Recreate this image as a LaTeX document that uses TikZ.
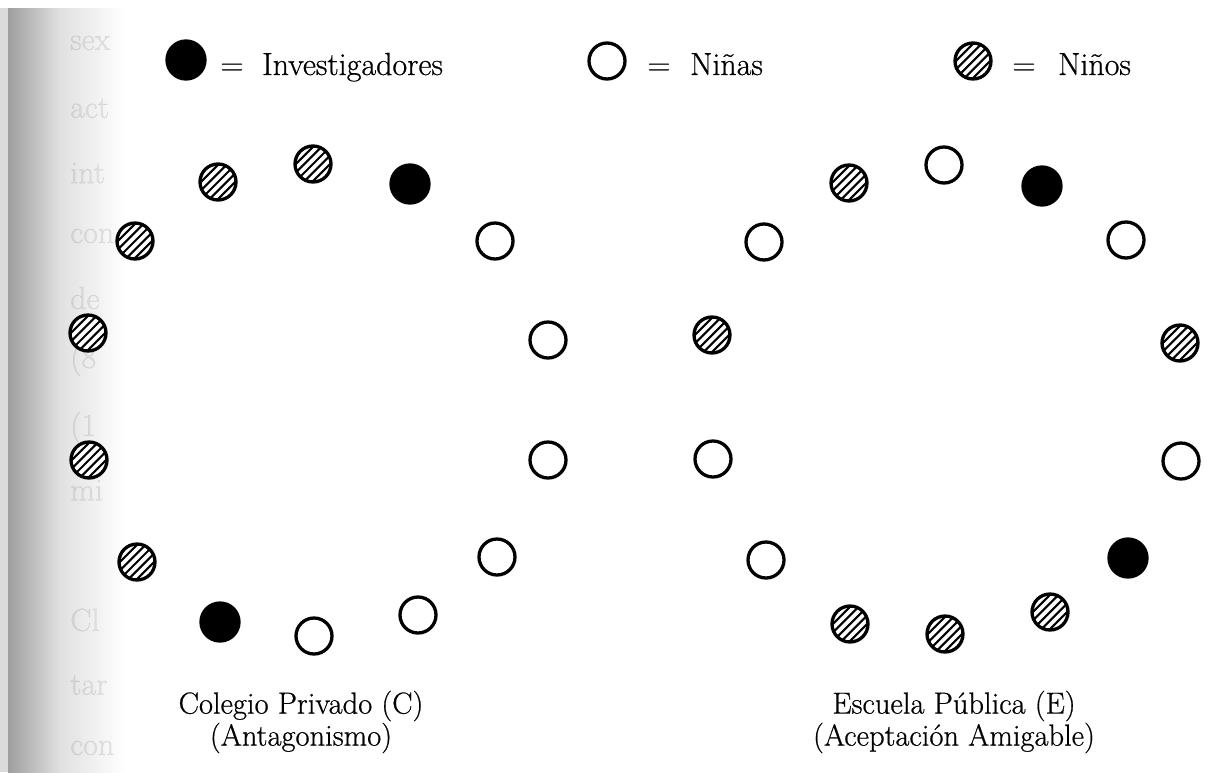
\documentclass[tikz,border=0pt]{standalone}
\usepackage{fontspec}
\newfontfamily\bkfont{Latin Modern Roman}[FakeBold=0.6]
\usetikzlibrary{calc}
\begin{document}
\begin{tikzpicture}[x=1pt,y=-1pt,
  dot/.style={circle,draw=black,line width=3.3pt,minimum size=36pt,inner sep=0pt},
  girl/.style={dot,fill=white},
  inv/.style={dot,fill=black,minimum size=38pt},
  boy/.style={dot,fill=white,path picture={
      \foreach \i in {-3,...,3}
        \draw[line width=2.1pt] ($(path picture bounding box.center)+(\i*8.6pt-26pt,-26pt)$) -- ++(52pt,52pt);}},
  lbl/.style={font=\bkfont\fontsize{32}{36}\selectfont,inner sep=0pt},
  captiontext/.style={font=\bkfont\fontsize{30.5}{32}\selectfont,inner sep=0pt,align=center},
  ghost/.style={font=\bkfont\fontsize{32}{36}\selectfont,inner sep=0pt,anchor=west,text=black,text opacity=0.08}
]
\useasboundingbox (0,0) rectangle (1207,772);
% scan shading on the left edge
\fill[black!14] (0,8) rectangle (8,772);
\shade[left color=black!38,right color=black!12] (8,8) rectangle (60,772);
\shade[left color=black!12,right color=white] (60,8) rectangle (125,772);
% bleed-through text
\begin{scope}
\clip (0,0) rectangle (123,772);
\node[ghost] (g1) at (70,43) {sex};
\node[ghost] (g2) at (70,108) {act};
\node[ghost] (g3) at (70,173) {int};
\node[ghost] (g4) at (70,236) {con};
\node[ghost] (g5) at (70,298) {de};
\node[ghost] (g6) at (70,360) {(8};
\node[ghost] (g7) at (70,428) {(1};
\node[ghost] (g8) at (70,490) {mi};
\node[ghost] (g9) at (70,620) {Cl};
\node[ghost] (g10) at (70,685) {tar};
\node[ghost] (g11) at (70,748) {con};
\end{scope}

% legend
\node[inv] (linv) at (186,60) {};
\node[lbl,anchor=base] (leq1) at (232,75) {=};
\node[lbl,anchor=base west] (ltinv) at (262,75) {Investigadores};
\node[girl] (lgirl) at (607,61) {};
\node[lbl,anchor=base] (leq2) at (659,75) {=};
\node[lbl,anchor=base west] (ltgirl) at (690,75) {Niñas};
\node[boy] (lboy) at (973,61) {};
\node[lbl,anchor=base] (leq3) at (1024,75) {=};
\node[lbl,anchor=base west] (ltboy) at (1058,75) {Niños};

% Colegio Privado
\node[boy]  (c1)  at (135,241) {};
\node[boy]  (c2)  at (218,182) {};
\node[boy]  (c3)  at (313,164) {};
\node[inv]  (c4)  at (410,184) {};
\node[girl] (c5)  at (495,241) {};
\node[boy]  (c6)  at (88,333) {};
\node[girl] (c7)  at (548,340) {};
\node[boy]  (c8)  at (89,460) {};
\node[girl] (c9)  at (548,460) {};
\node[boy]  (c10) at (137,562) {};
\node[girl] (c11) at (497,557) {};
\node[inv]  (c12) at (220,622) {};
\node[girl] (c13) at (314,636) {};
\node[girl] (c14) at (418,615) {};

% Escuela Publica
\node[boy]  (e1)  at (849,183) {};
\node[girl] (e2)  at (944,165) {};
\node[inv]  (e3)  at (1042,186) {};
\node[girl] (e4)  at (764,242) {};
\node[girl] (e5)  at (1126,240) {};
\node[boy]  (e6)  at (712,335) {};
\node[boy]  (e7)  at (1180,343) {};
\node[girl] (e8)  at (713,459) {};
\node[girl] (e9)  at (1181,461) {};
\node[girl] (e10) at (766,560) {};
\node[inv]  (e11) at (1128,558) {};
\node[boy]  (e12) at (850,624) {};
\node[boy]  (e13) at (945,634) {};
\node[boy]  (e14) at (1050,612) {};

% captions
\node[captiontext] (capc) at (301,722) {Colegio Privado (C)\\(Antagonismo)};
\node[captiontext] (cape) at (954,722) {Escuela Pública (E)\\(Aceptación Amigable)};
\end{tikzpicture}
\end{document}
